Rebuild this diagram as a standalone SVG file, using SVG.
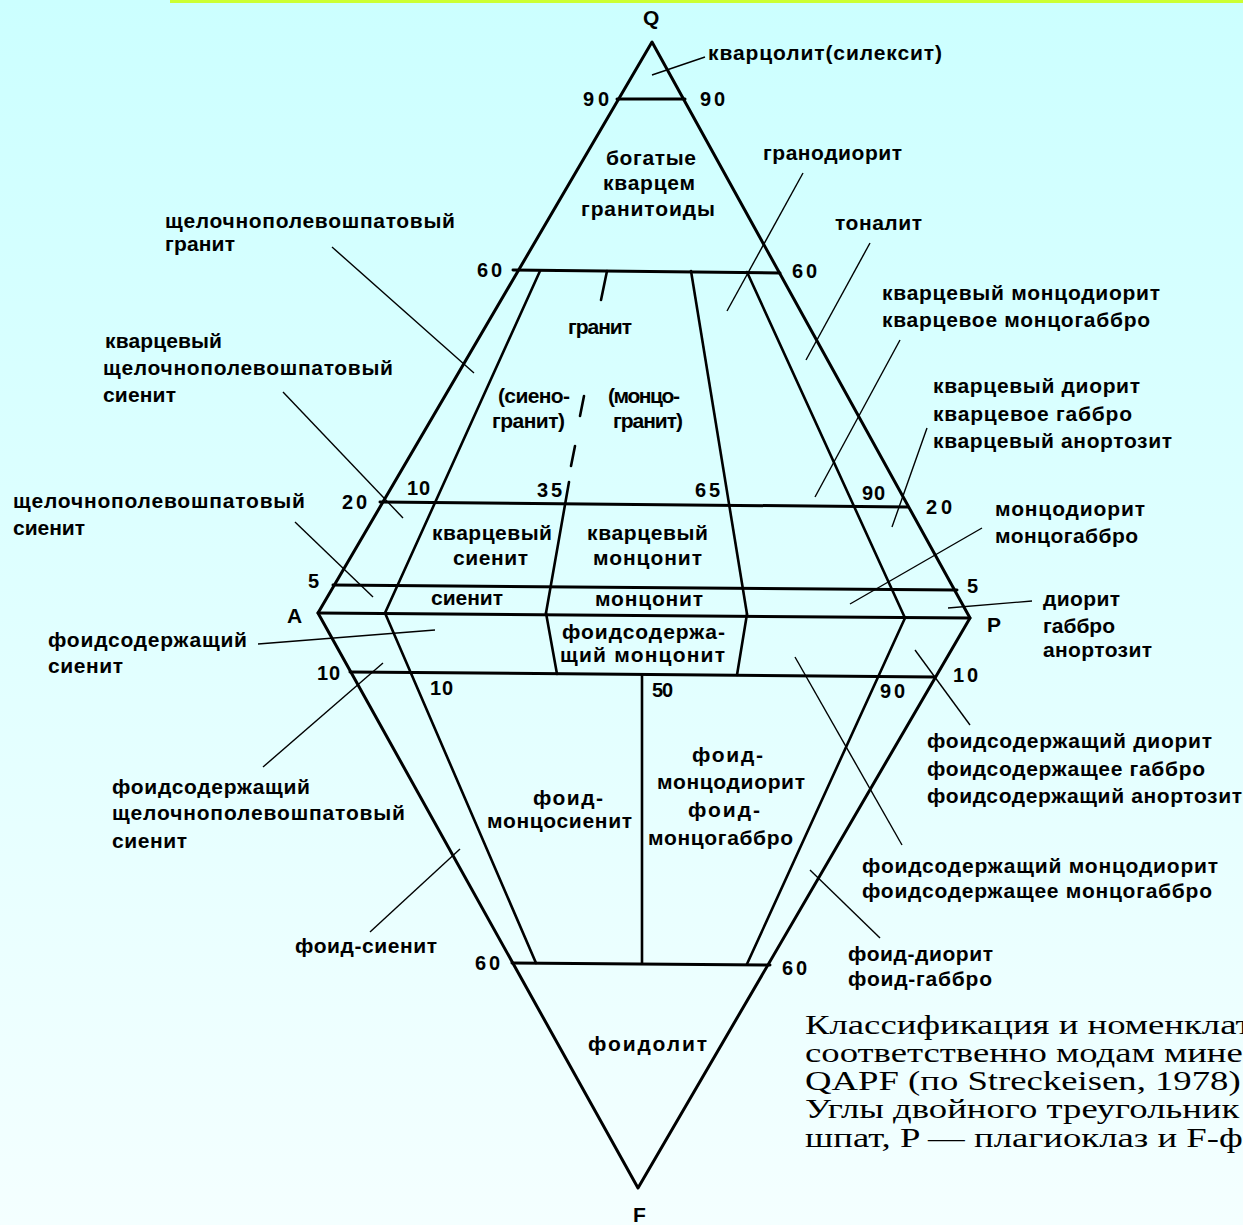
<svg xmlns="http://www.w3.org/2000/svg" width="1243" height="1225" viewBox="0 0 1243 1225">
<defs>
<linearGradient id="bg" x1="0" y1="0" x2="0" y2="1">
<stop offset="0" stop-color="#ccffff"/>
<stop offset="1" stop-color="#f4ffff"/>
</linearGradient>
</defs>
<style>
.main{stroke:#000;stroke-width:3;fill:none;stroke-linecap:round;stroke-linejoin:round}
.div{stroke:#000;stroke-width:2.6;fill:none;stroke-linecap:round}
.lead{stroke:#000;stroke-width:1.4;fill:none}
text{font-family:"Liberation Sans",Arial,sans-serif;font-weight:bold;font-size:21px;fill:#000}
.num{font-size:20px}
.cap{font-family:"Liberation Serif","Times New Roman",serif;font-weight:normal;font-size:27px}
</style>
<rect x="0" y="0" width="1243" height="1225" fill="url(#bg)"/>
<rect x="170" y="0" width="1073" height="3" fill="#ccff33"/>

<g id="diagram-frame">
<polygon class="main" points="652,42 318,613 638,1188 970,618"/>
<line class="main" x1="318" y1="613" x2="970" y2="618"/>
<line class="main" x1="617" y1="99" x2="685" y2="99"/>
<line class="main" x1="513" y1="270" x2="780" y2="273"/>
<line class="main" x1="380" y1="502" x2="908" y2="507"/>
<line class="main" x1="333" y1="585" x2="957" y2="590"/>
<line class="main" x1="350" y1="672" x2="935" y2="677"/>
<line class="main" x1="512" y1="963" x2="770" y2="965"/>
</g>

<g id="connectors">
<line class="div" x1="540" y1="271" x2="385" y2="613"/>
<line class="div" x1="385" y1="613" x2="536" y2="963"/>
<line class="div" x1="607" y1="271" x2="601" y2="300"/>
<line class="div" x1="584" y1="396" x2="580" y2="416"/>
<line class="div" x1="575" y1="446" x2="571" y2="466"/>
<line class="div" x1="569" y1="482" x2="546" y2="613"/>
<line class="div" x1="546" y1="613" x2="557" y2="674"/>
<line class="div" x1="691" y1="271" x2="747" y2="614"/>
<line class="div" x1="747" y1="614" x2="737" y2="675"/>
<line class="div" x1="747" y1="272" x2="905" y2="618"/>
<line class="div" x1="905" y1="618" x2="747" y2="964"/>
<line class="div" x1="642" y1="675" x2="642" y2="963"/>
<line class="lead" x1="705" y1="57" x2="652" y2="75"/>
<line class="lead" x1="803" y1="173" x2="727" y2="311"/>
<line class="lead" x1="870" y1="243" x2="806" y2="360"/>
<line class="lead" x1="900" y1="340" x2="815" y2="497"/>
<line class="lead" x1="927" y1="428" x2="892" y2="527"/>
<line class="lead" x1="982" y1="528" x2="850" y2="604"/>
<line class="lead" x1="1032" y1="601" x2="948" y2="608"/>
<line class="lead" x1="970" y1="725" x2="915" y2="650"/>
<line class="lead" x1="902" y1="845" x2="795" y2="657"/>
<line class="lead" x1="880" y1="938" x2="810" y2="870"/>
<line class="lead" x1="332" y1="247" x2="474" y2="373"/>
<line class="lead" x1="283" y1="392" x2="403" y2="518"/>
<line class="lead" x1="295" y1="522" x2="373" y2="597"/>
<line class="lead" x1="258" y1="644" x2="435" y2="630"/>
<line class="lead" x1="263" y1="767" x2="383" y2="663"/>
<line class="lead" x1="370" y1="932" x2="460" y2="849"/>
</g>

<g id="corner-labels">
<text x="643" y="25" font-size="18" textLength="14">Q</text>
<text x="287" y="623" font-size="18" textLength="13">A</text>
<text x="987" y="632" font-size="18" textLength="13">P</text>
<text x="633" y="1222" font-size="18" textLength="10">F</text>
</g>

<g id="scale-numbers">
<text class="num" x="583" y="106" textLength="26">90</text>
<text class="num" x="700" y="106" textLength="25">90</text>
<text class="num" x="477" y="277" textLength="25">60</text>
<text class="num" x="792" y="278" textLength="25">60</text>
<text class="num" x="407" y="495" textLength="23">10</text>
<text class="num" x="537" y="497" textLength="25">35</text>
<text class="num" x="695" y="497" textLength="25">65</text>
<text class="num" x="862" y="500" textLength="23">90</text>
<text class="num" x="342" y="509" textLength="25">20</text>
<text class="num" x="926" y="514" textLength="26">20</text>
<text class="num" x="308" y="588" textLength="10">5</text>
<text class="num" x="967" y="593" textLength="11">5</text>
<text class="num" x="317" y="680" textLength="23">10</text>
<text class="num" x="953" y="682" textLength="25">10</text>
<text class="num" x="430" y="695" textLength="23">10</text>
<text class="num" x="652" y="697" textLength="21">50</text>
<text class="num" x="880" y="698" textLength="25">90</text>
<text class="num" x="475" y="970" textLength="25">60</text>
<text class="num" x="782" y="975" textLength="25">60</text>
</g>

<g id="node-quartzolite"><text x="708" y="60" textLength="234">кварцолит(силексит)</text></g>
<g id="node-qrich">
<text x="606" y="165" textLength="90">богатые</text>
<text x="603" y="190" textLength="92">кварцем</text>
<text x="581" y="216" textLength="134">гранитоиды</text>
</g>
<g id="node-granodiorite"><text x="763" y="160" textLength="139">гранодиорит</text></g>
<g id="node-tonalite"><text x="835" y="230" textLength="87">тоналит</text></g>
<g id="node-afgranite">
<text x="165" y="228" textLength="290">щелочнополевошпатовый</text>
<text x="165" y="251" textLength="70">гранит</text>
</g>
<g id="node-granite">
<text x="568" y="334" textLength="64">гранит</text>
<text x="498" y="403" textLength="72">(сиено-</text>
<text x="492" y="428" textLength="73">гранит)</text>
<text x="608" y="403" textLength="72">(монцо-</text>
<text x="613" y="428" textLength="70">гранит)</text>
</g>
<g id="node-qmonzodiorite">
<text x="882" y="300" textLength="278">кварцевый монцодиорит</text>
<text x="882" y="327" textLength="268">кварцевое монцогаббро</text>
</g>
<g id="node-qafsyenite">
<text x="105" y="348" textLength="117">кварцевый</text>
<text x="103" y="375" textLength="290">щелочнополевошпатовый</text>
<text x="103" y="402" textLength="73">сиенит</text>
</g>
<g id="node-qdiorite">
<text x="933" y="393" textLength="207">кварцевый диорит</text>
<text x="933" y="421" textLength="199">кварцевое габбро</text>
<text x="933" y="448" textLength="239">кварцевый анортозит</text>
</g>
<g id="node-afsyenite">
<text x="13" y="508" textLength="292">щелочнополевошпатовый</text>
<text x="13" y="535" textLength="72">сиенит</text>
</g>
<g id="node-monzodiorite">
<text x="995" y="516" textLength="150">монцодиорит</text>
<text x="995" y="543" textLength="143">монцогаббро</text>
</g>
<g id="node-qsyenite">
<text x="432" y="540" textLength="120">кварцевый</text>
<text x="453" y="565" textLength="75">сиенит</text>
</g>
<g id="node-qmonzonite">
<text x="587" y="540" textLength="121">кварцевый</text>
<text x="593" y="565" textLength="109">монцонит</text>
</g>
<g id="node-syenite"><text x="431" y="605" textLength="72">сиенит</text></g>
<g id="node-monzonite"><text x="595" y="606" textLength="108">монцонит</text></g>
<g id="node-diorite">
<text x="1043" y="606" textLength="77">диорит</text>
<text x="1043" y="633" textLength="72">габбро</text>
<text x="1043" y="657" textLength="109">анортозит</text>
</g>
<g id="node-fsyenite">
<text x="48" y="647" textLength="199">фоидсодержащий</text>
<text x="48" y="673" textLength="75">сиенит</text>
</g>
<g id="node-fmonzonite">
<text x="562" y="639" textLength="163">фоидсодержа-</text>
<text x="560" y="662" textLength="165">щий монцонит</text>
</g>
<g id="node-fdiorite">
<text x="927" y="748" textLength="285">фоидсодержащий диорит</text>
<text x="927" y="776" textLength="278">фоидсодержащее габбро</text>
<text x="927" y="803" textLength="315">фоидсодержащий анортозит</text>
</g>
<g id="node-foidmonzodiorite">
<text x="692" y="762" textLength="71">фоид-</text>
<text x="657" y="789" textLength="148">монцодиорит</text>
<text x="688" y="817" textLength="72">фоид-</text>
<text x="648" y="845" textLength="145">монцогаббро</text>
</g>
<g id="node-foidmonzosyenite">
<text x="533" y="805" textLength="70">фоид-</text>
<text x="487" y="828" textLength="145">монцосиенит</text>
</g>
<g id="node-fafsyenite">
<text x="112" y="794" textLength="198">фоидсодержащий</text>
<text x="112" y="820" textLength="293">щелочнополевошпатовый</text>
<text x="112" y="848" textLength="75">сиенит</text>
</g>
<g id="node-fmonzodiorite">
<text x="862" y="873" textLength="356">фоидсодержащий монцодиорит</text>
<text x="862" y="898" textLength="350">фоидсодержащее монцогаббро</text>
</g>
<g id="node-foidsyenite"><text x="295" y="953" textLength="142">фоид-сиенит</text></g>
<g id="node-foiddiorite">
<text x="848" y="961" textLength="145">фоид-диорит</text>
<text x="848" y="986" textLength="144">фоид-габбро</text>
</g>
<g id="node-foidolite"><text x="588" y="1051" textLength="119">фоидолит</text></g>

<g id="caption" transform="translate(805,0) scale(1.36,1)">
<text class="cap" x="0" y="1034">Классификация и номенклат</text>
<text class="cap" x="0" y="1062">соответственно модам мине</text>
<text class="cap" x="0" y="1090">QAPF (по Streckeisen, 1978)</text>
<text class="cap" x="0" y="1118">Углы двойного треугольник</text>
<text class="cap" x="0" y="1147">шпат, P — плагиоклаз и F-ф</text>
</g>
</svg>
